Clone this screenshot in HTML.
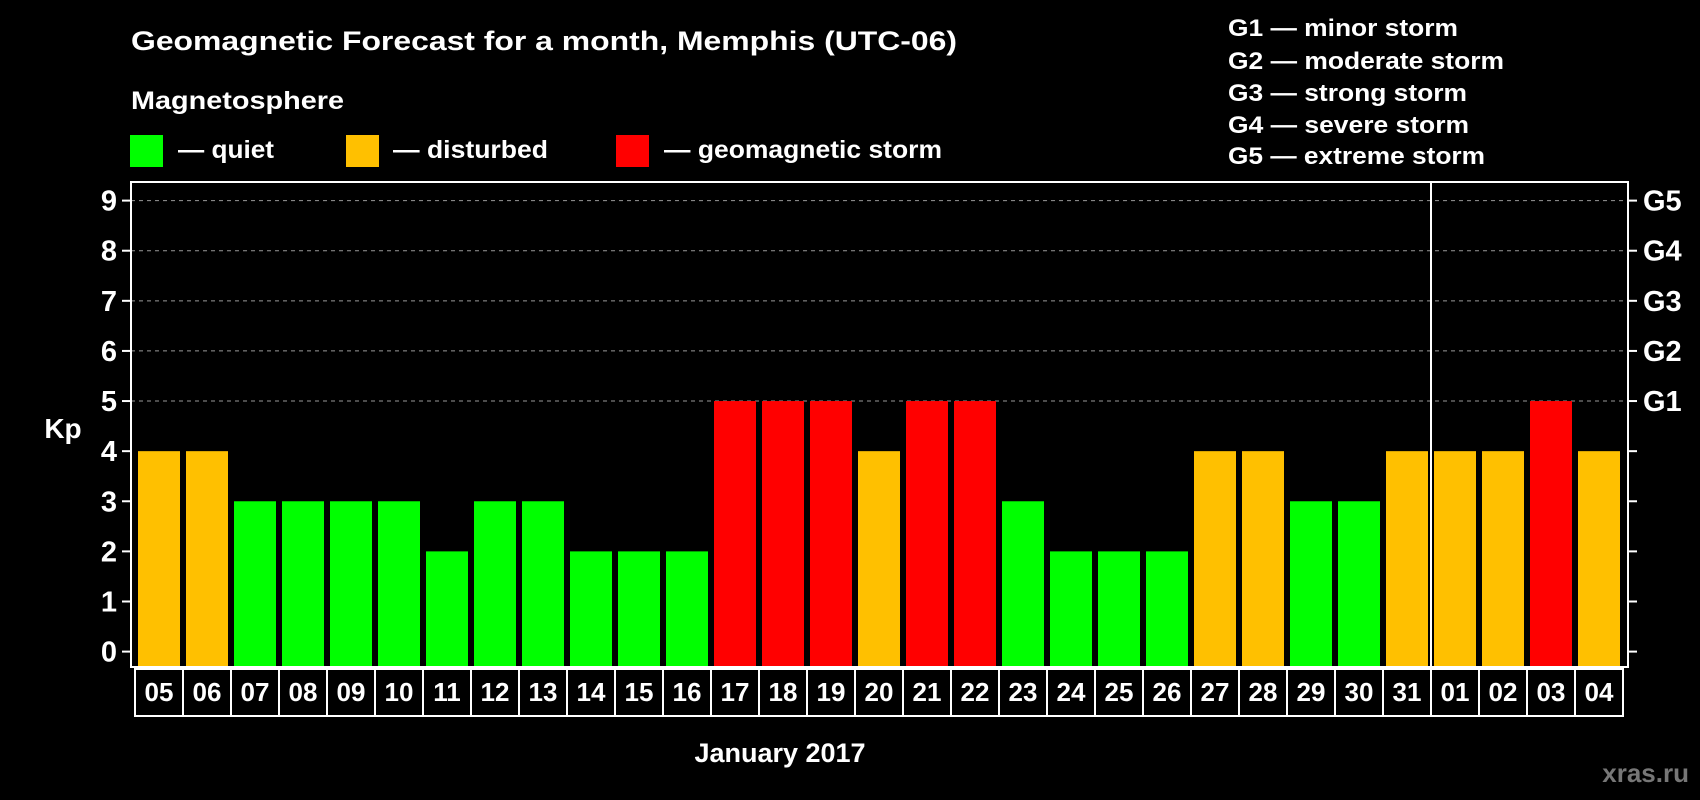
<!DOCTYPE html>
<html><head><meta charset="utf-8"><style>
html,body{margin:0;padding:0;background:#000;}
svg{display:block;font-family:"Liberation Sans",sans-serif;font-weight:bold;}
</style></head><body>
<svg id="chart" width="1700" height="800" viewBox="0 0 1700 800">
<text x="131" y="50" font-size="27" fill="#fff" textLength="826" lengthAdjust="spacingAndGlyphs">Geomagnetic Forecast for a month, Memphis (UTC-06)</text>
<text x="131" y="109" font-size="25" fill="#fff" textLength="213" lengthAdjust="spacingAndGlyphs">Magnetosphere</text>
<g>
<rect x="130" y="135" width="33" height="32" fill="#00ff00"/>
<text x="178" y="158" font-size="25" fill="#fff" textLength="96" lengthAdjust="spacingAndGlyphs">— quiet</text></g>
<g>
<rect x="346" y="135" width="33" height="32" fill="#ffc000"/>
<text x="393" y="158" font-size="25" fill="#fff" textLength="155" lengthAdjust="spacingAndGlyphs">— disturbed</text></g>
<g>
<rect x="616" y="135" width="33" height="32" fill="#ff0000"/>
<text x="664" y="158" font-size="25" fill="#fff" textLength="278" lengthAdjust="spacingAndGlyphs">— geomagnetic storm</text></g>
<g font-size="24" fill="#fff">
<text x="1228" y="36" textLength="230" lengthAdjust="spacingAndGlyphs">G1 — minor storm</text>
<text x="1228" y="69" textLength="276" lengthAdjust="spacingAndGlyphs">G2 — moderate storm</text>
<text x="1228" y="101" textLength="239" lengthAdjust="spacingAndGlyphs">G3 — strong storm</text>
<text x="1228" y="133" textLength="241" lengthAdjust="spacingAndGlyphs">G4 — severe storm</text>
<text x="1228" y="164" textLength="257" lengthAdjust="spacingAndGlyphs">G5 — extreme storm</text>
</g>
<text x="63" y="438" font-size="28" fill="#fff" text-anchor="middle">Kp</text>
<text x="780" y="762" font-size="27" fill="#fff" text-anchor="middle">January 2017</text>
<text x="1689" y="782" font-size="26" fill="#777" text-anchor="end">xras.ru</text>
<g id="plot"></g>
</svg>
<script>
const days = ["05","06","07","08","09","10","11","12","13","14","15","16","17","18","19","20","21","22","23","24","25","26","27","28","29","30","31","01","02","03","04"];
const kpValues = [4,4,3,3,3,3,2,3,3,2,2,2,5,5,5,4,5,5,3,2,2,2,4,4,3,3,4,4,4,5,4];
const yTicks = [0,1,2,3,4,5,6,7,8,9];
const gLabels = ["G1","G2","G3","G4","G5"];
const monthBreakIndex = 27;

const NS="http://www.w3.org/2000/svg";
const plot=document.getElementById('plot');
const L=131,R=1628,T=182,B=667;
const slotStart=135,slotW=48,barW=42;
function y(v){return 651.6-v*(651.6-200.6)/9;}
function xSlot(i){return slotStart+i*slotW;}
function mk(t,a,p){const e=document.createElementNS(NS,t);for(const k in a)e.setAttribute(k,a[k]);(p||plot).appendChild(e);return e;}
function color(v){return v>=5?"#ff0000":(v>=4?"#ffc000":"#00ff00");}

yTicks.forEach(v=>{
  if(v>=5){
    const g=mk('line',{x1:L,x2:R,y1:y(v),y2:y(v),stroke:"#999","stroke-width":1,"stroke-dasharray":"4,4"});
    
    
  }
  const tl=mk('line',{x1:122,x2:L,y1:y(v),y2:y(v),stroke:"#fff","stroke-width":2});
  
  
  const tr=mk('line',{x1:R,x2:1637,y1:y(v),y2:y(v),stroke:"#fff","stroke-width":2});
  
  
  const t=mk('text',{x:117,y:y(v)+10,"font-size":29,fill:"#fff","text-anchor":"end"});
  t.textContent=v;
  
  
});
gLabels.forEach((g,i)=>{
  const t=mk('text',{x:1643,y:y(5+i)+10,"font-size":29,fill:"#fff"});
  t.textContent=g;
  
  
});
kpValues.forEach((v,i)=>{
  const r=mk('rect',{x:xSlot(i)+3,y:y(v),width:barW,height:B-y(v),fill:color(v)});
  
  
});
days.forEach((d,i)=>{
  const c=mk('rect',{x:xSlot(i),y:669,width:slotW,height:47,fill:"none",stroke:"#fff","stroke-width":2});
  
  
  const t=mk('text',{x:xSlot(i)+slotW/2,y:701,"font-size":26,fill:"#fff","text-anchor":"middle"});
  t.textContent=d;
  
  
});
const fr=mk('rect',{x:L,y:T,width:R-L,height:B-T,fill:"none",stroke:"#fff","stroke-width":2});


const mb=mk('line',{x1:xSlot(monthBreakIndex),x2:xSlot(monthBreakIndex),y1:T,y2:B,stroke:"#fff","stroke-width":2});


</script>
</body></html>
